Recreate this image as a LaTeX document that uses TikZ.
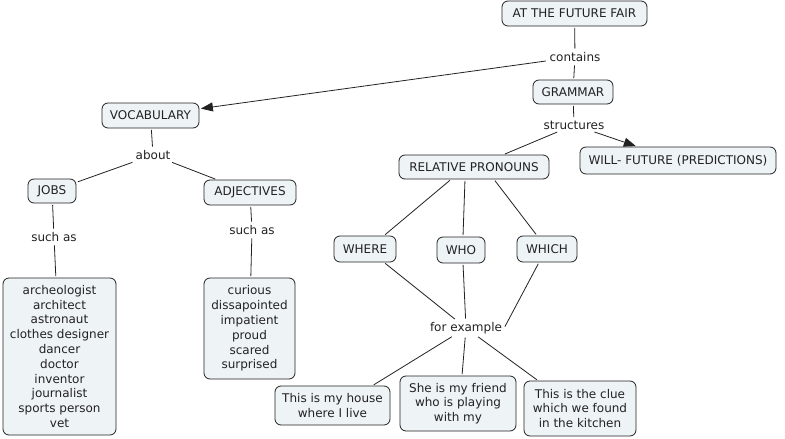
\documentclass[tikz,border=0pt]{standalone}
\usepackage{fontspec}
\setmainfont{DejaVu Sans}
\usetikzlibrary{arrows.meta}
\definecolor{boxfill}{HTML}{EEF3F6}
\definecolor{ink}{HTML}{222222}
\begin{document}
\begin{tikzpicture}[x=1pt,y=-1pt,
  concept/.style={draw=ink, fill=boxfill, rounded corners=6pt, line width=0.8pt,
    inner sep=0pt, align=center, font=\fontsize{12}{14.8}\selectfont, text=ink},
  lbl/.style={inner sep=2pt, font=\fontsize{12}{14.8}\selectfont, text=ink},
  link/.style={draw=ink, line width=0.8pt, shorten <=1.5pt, shorten >=1.5pt},
  arr/.style={link, -{Triangle[length=12pt,width=9pt]}}]
\useasboundingbox[fill=white] (0,0) rectangle (785,439);
% concepts
\node[concept, minimum width=145pt, minimum height=25pt] (fair) at (574.5,13.5) {AT THE FUTURE FAIR};
\node[concept, minimum width=80pt, minimum height=24pt] (grammar) at (573,92) {GRAMMAR};
\node[concept, minimum width=196pt, minimum height=27pt] (will) at (678,160.5) {WILL- FUTURE (PREDICTIONS)};
\node[concept, minimum width=150pt, minimum height=24pt] (rp) at (474,167) {RELATIVE PRONOUNS};
\node[concept, minimum width=62pt, minimum height=26pt] (where) at (365,249) {WHERE};
\node[concept, minimum width=48pt, minimum height=26pt] (who) at (461,250) {WHO};
\node[concept, minimum width=60pt, minimum height=26pt] (which) at (547,249) {WHICH};
\node[concept, minimum width=97pt, minimum height=25pt] (vocab) at (150.5,115.5) {VOCABULARY};
\node[concept, minimum width=48pt, minimum height=24pt] (jobs) at (52,191) {JOBS};
\node[concept, minimum width=92pt, minimum height=25pt] (adj) at (250,192.5) {ADJECTIVES};
\node[concept, minimum width=113pt, minimum height=157pt] (joblist) at (59.5,356.5)
  {archeologist\\architect\\astronaut\\clothes designer\\dancer\\doctor\\inventor\\journalist\\sports person\\vet};
\node[concept, minimum width=91pt, minimum height=101pt] (adjlist) at (249.5,328.5)
  {curious\\dissapointed\\impatient\\proud\\scared\\surprised};
\node[concept, minimum width=115pt, minimum height=39pt] (ex1) at (332.5,405.5) {This is my house\\where I live};
\node[concept, minimum width=116pt, minimum height=55pt] (ex2) at (458,403.5) {She is my friend\\who is playing\\with my};
\node[concept, minimum width=112pt, minimum height=55pt] (ex3) at (580,408.5) {This is the clue\\which we found\\in the kitchen};
% linking phrases
\node[lbl] (contains) at (575,57) {contains};
\node[lbl] (structures) at (574,125) {structures};
\node[lbl] (about) at (153,155) {about};
\node[lbl] (such1) at (54,237) {such as};
\node[lbl] (such2) at (252,230) {such as};
\node[lbl] (forex) at (466,328) {for example};
% connectors
\draw[link] (fair) -- (contains);
\draw[link] (contains) -- (grammar);
\draw[arr] (contains) -- (vocab);
\draw[link] (grammar) -- (structures);
\draw[arr] (structures) -- (will);
\draw[link] (structures) -- (rp);
\draw[link] (vocab) -- (about);
\draw[link] (about) -- (jobs);
\draw[link] (about) -- (adj);
\draw[link] (jobs) -- (such1);
\draw[link] (such1) -- (joblist);
\draw[link] (adj) -- (such2);
\draw[link] (such2) -- (adjlist);
\draw[link] ([xshift=-23pt]rp.south) -- ([xshift=19pt]where.north);
\draw[link] ([xshift=-9pt]rp.south) -- ([xshift=2pt]who.north);
\draw[link] ([xshift=20pt]rp.south) -- ([xshift=-10pt]which.north);
\draw[link] ([xshift=19pt]where.south) -- (forex);
\draw[link] ([xshift=2pt]who.south) -- (forex);
\draw[link] ([xshift=-8pt]which.south) -- (forex.east);
\draw[link] (forex) -- ([xshift=40pt]ex1.north);
\draw[link] (forex) -- ([xshift=4pt]ex2.north);
\draw[link] (forex) -- ([xshift=-42pt]ex3.north);
\end{tikzpicture}
\end{document}
